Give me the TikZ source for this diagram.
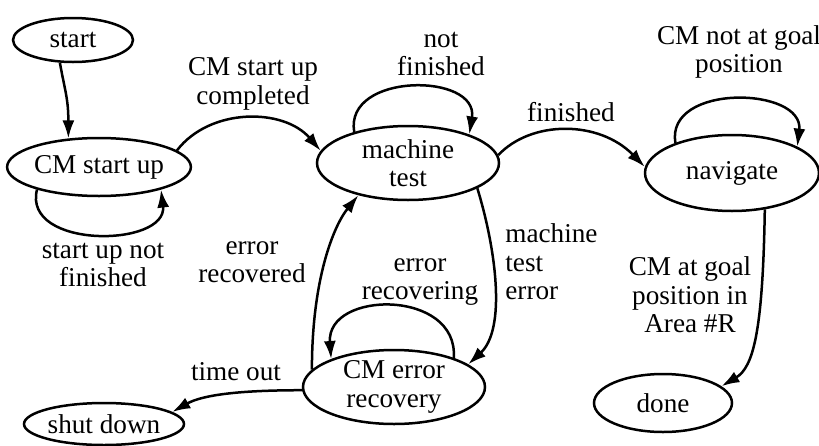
\documentclass[tikz,border=0pt]{standalone}
\usepackage{fontspec}
\setmainfont{Liberation Serif}
\usetikzlibrary{shapes.geometric,arrows.meta}
\newcommand\diagfont{\fontsize{13.6}{14.2}\selectfont}
\begin{document}
\begin{tikzpicture}[x=0.5pt,y=-0.5pt,
  state/.style={ellipse,draw,line width=1.25pt,inner sep=0pt,align=center,font=\diagfont},
  edge/.style={line width=1.25pt,-{Latex[length=9pt,width=6pt]}},
  lbl/.style={align=center,inner sep=0pt,font=\diagfont}]
\useasboundingbox (0,0) rectangle (819,445);
% states
\node[state,minimum width=60pt,minimum height=22pt] (start) at (73,40) {start};
\node[state,minimum width=86pt,minimum height=29pt] (csu) at (99,167) {CM start up};
\node[state,minimum width=91pt,minimum height=37pt] (mt) at (408,163) {machine\\test};
\node[state,minimum width=87pt,minimum height=38pt] (nav) at (732,173) {navigate};
\node[state,minimum width=91pt,minimum height=37pt] (cer) at (394,387) {CM error\\recovery};
\node[state,minimum width=80pt,minimum height=21pt] (sd) at (104,424) {shut down};
\node[state,minimum width=69pt,minimum height=29pt] (done) at (663,403) {done};
% connectors
\draw[edge] (start.240) .. controls +(5,28) and +(0,-40) .. (csu.137);
\draw[edge] (csu.200) .. controls +(-15,60) and +(7,58) .. (csu.-20);
\draw[edge] (csu.12) .. controls +(33,-43) and +(-37,-43) .. (mt.172);
\draw[edge] (mt.150) .. controls +(-10,-60) and +(10,-62) .. (mt.25);
\draw[edge] (mt.5) .. controls +(33,-35) and +(-46,-47) .. (nav.176);
\draw[edge] (nav.152) .. controls +(-10,-60) and +(7,-60) .. (nav.22);
\draw[edge] (nav.-48) .. controls +(-2,122) and +(32,-19) .. (done.16);
\draw[edge] (mt.-20) .. controls +(19,62) and +(38,-35) .. (cer.17);
\draw[edge] (cer.168) .. controls +(0,-90) and +(-25,31) .. (mt.213);
\draw[edge] (cer.26) .. controls +(5,-69) and +(-5,-69) .. (cer.156);
\draw[edge] (cer.182) .. controls +(-63,0) and +(30,-17) .. (sd.10);
% labels
\node[lbl] (l1) at (253,84) {CM start up\\completed};
\node[lbl] (l2) at (103,265) {start up not\\finished};
\node[lbl] (l3) at (441,54) {not\\finished};
\node[lbl] (l4) at (571,112) {finished};
\node[lbl] (l5) at (739,52) {CM not at goal\\position};
\node[lbl] (l6) at (690,295) {CM at goal\\position in\\Area \#R};
\node[lbl,anchor=west,align=left] (l7) at (505,262) {machine\\test\\error};
\node[lbl] (l8) at (252,262) {error\\recovered};
\node[lbl] (l9) at (420,282) {error\\recovering};
\node[lbl] (l10) at (236,372) {time out};
\end{tikzpicture}
\end{document}
